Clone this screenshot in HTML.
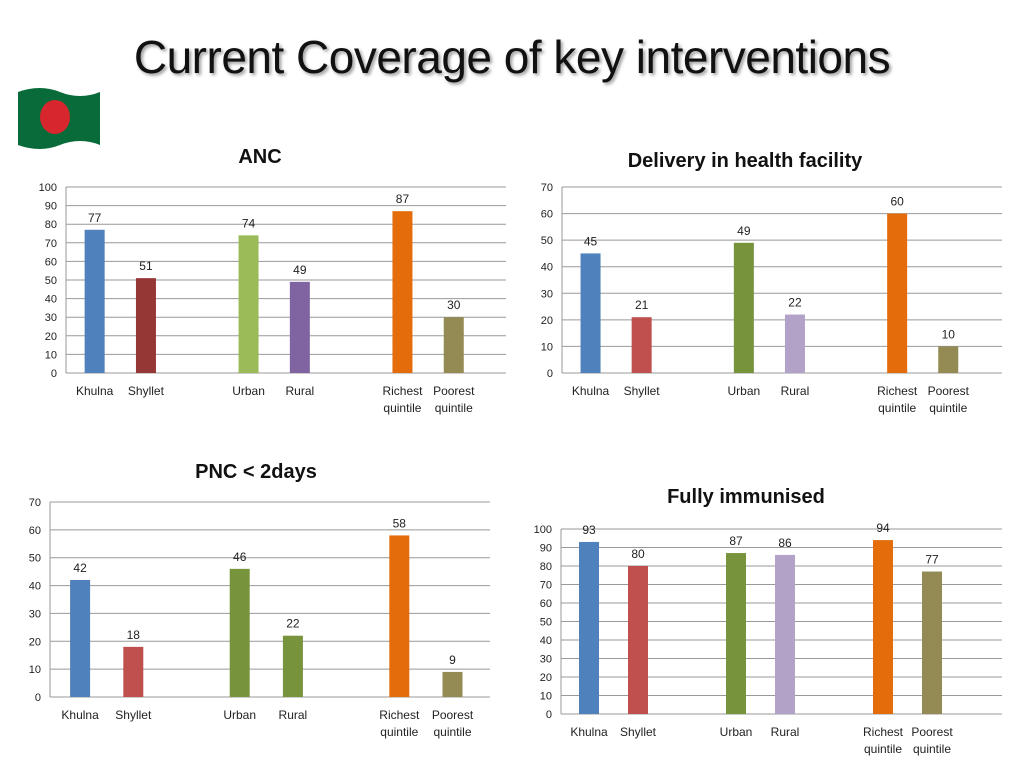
<!DOCTYPE html>
<html><head><meta charset="utf-8">
<style>
body{margin:0;width:1024px;height:768px;background:#fff;overflow:hidden;font-family:"Liberation Sans",Calibri,sans-serif;}
#title{position:absolute;left:0;top:30px;width:1024px;text-align:center;font-size:46px;color:#111;text-shadow:2px 2px 3px #999;letter-spacing:-0.5px;}
svg{position:absolute;left:0;top:0}
</style></head>
<body>
<div id="title">Current Coverage of key interventions</div>
<svg id="flag" width="1024" height="768">
<path d="M18,92 Q40,84 60,92 T100,92 L100,145 Q80,137 60,145 T18,145 Z" fill="#0a6b3a"/>
<ellipse cx="55" cy="117" rx="15" ry="17" fill="#d8262e"/>
</svg>
<svg id="charts" width="1024" height="768"></svg>
<script>
const categories=["Khulna","Shyllet","","Urban","Rural","","Richest quintile","Poorest quintile"];
const ancValues=[77,51,null,74,49,null,87,30];
const deliveryValues=[45,21,null,49,22,null,60,10];
const pncValues=[42,18,null,46,22,null,58,9];
const immunisedValues=[93,80,null,87,86,null,94,77];
const ancTicks=[0,10,20,30,40,50,60,70,80,90,100];
const seventyTicks=[0,10,20,30,40,50,60,70];
const charts=[
 {name:"anc",title:"ANC",tx:260,ty:163,vals:ancValues,ticks:ancTicks,max:100,x0:69,step:51.3,gx0:66,gx1:506,y0:373,y1:187,
  colors:["#4F81BD","#953735",null,"#9BBB59","#8064A2",null,"#E46C0A","#948A54"]},
 {name:"delivery",title:"Delivery in health facility",tx:745,ty:167,vals:deliveryValues,ticks:seventyTicks,max:70,x0:565,step:51.1,gx0:562,gx1:1002,y0:373,y1:187,
  colors:["#4F81BD","#C0504D",null,"#77933C","#B3A2C7",null,"#E46C0A","#948A54"]},
 {name:"pnc",title:"PNC < 2days",tx:256,ty:478,vals:pncValues,ticks:seventyTicks,max:70,x0:53.5,step:53.2,gx0:50,gx1:490,y0:697,y1:502,
  colors:["#4F81BD","#C0504D",null,"#77933C","#77933C",null,"#E46C0A","#948A54"]},
 {name:"immunised",title:"Fully immunised",tx:746,ty:503,vals:immunisedValues,ticks:ancTicks,max:100,x0:564.5,step:49,gx0:561,gx1:1002,y0:714,y1:529,
  colors:["#4F81BD","#C0504D",null,"#77933C","#B3A2C7",null,"#E46C0A","#948A54"]}
];
const NS="http://www.w3.org/2000/svg";
const svg=document.getElementById('charts');
function mk(tag,attrs,parent,text){const e=document.createElementNS(NS,tag);for(const k in attrs)e.setAttribute(k,attrs[k]);if(text!==undefined)e.textContent=text;parent.appendChild(e);return e;}
charts.forEach(c=>{
 const g=mk('g',{},svg);
 
 
 const yS=v=>c.y0-(c.y0-c.y1)*v/c.max;
 const xS=i=>c.x0+c.step*(i+0.5);
 const t=mk('text',{x:c.tx,y:c.ty,'text-anchor':'middle','font-size':20,'font-weight':'bold',fill:'#111'},g,c.title);
 
 
 c.ticks.forEach(v=>{
  const y=yS(v);
  const ln=mk('line',{x1:c.gx0,x2:c.gx1,y1:y,y2:y,stroke:'#999','stroke-width':1},g);
  
  
  const tl=mk('text',{x:c.gx0-9,y:y+4,'text-anchor':'end','font-size':11,fill:'#222'},g,String(v));
  
  
 });
 mk('line',{x1:c.gx0,x2:c.gx0,y1:c.y1,y2:c.y0,stroke:'#999'},g);
 categories.forEach((cat,i)=>{
  const x=xS(i);
  const v=c.vals[i];
  if(v!==null&&v!==undefined){
   const b=mk('rect',{x:x-10,y:yS(v),width:20,height:c.y0-yS(v),fill:c.colors[i]},g);
   
   
   const vl=mk('text',{x:x,y:yS(v)-8,'text-anchor':'middle','font-size':12,fill:'#222'},g,String(v));
   
   
  }
  if(cat){
   cat.split(' ').forEach((w,j)=>{
    const cl=mk('text',{x:x,y:c.y0+22+j*17,'text-anchor':'middle','font-size':12,fill:'#222'},g,w);
    
    
   });
  }
 });
});
</script>
</body></html>
